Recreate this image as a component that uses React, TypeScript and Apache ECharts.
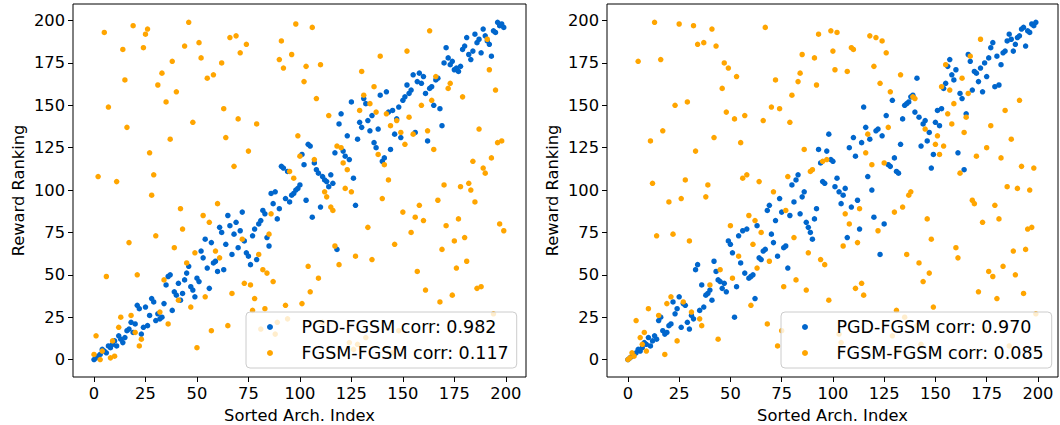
import React, { useEffect, useRef } from 'react';
import * as echarts from 'echarts';

const AXIS_TICKS = [0, 25, 50, 75, 100, 125, 150, 175, 200];
const X_TITLE = 'Sorted Arch. Index';
const Y_TITLE = 'Reward Ranking';

const LEFT_NAMES = ['PGD-FGSM corr: 0.982', 'FGSM-FGSM corr: 0.117'];
const RIGHT_NAMES = ['PGD-FGSM corr: 0.970', 'FGSM-FGSM corr: 0.085'];

// y value (reward ranking) for sorted arch index 0..199
const LEFT_PGD = [
  0, 1, 2, 3, 6, 5, 4, 8, 7, 9, 11, 8, 14, 12, 10, 13, 17, 18, 22, 16,
  21, 32, 30, 15, 19, 31, 20, 26, 36, 34, 23, 27, 24, 25, 33, 44, 49, 50, 29, 40,
  38, 45, 35, 39, 47, 51, 55, 43, 41, 37, 48, 46, 64, 60, 71, 54, 42, 69, 57, 58,
  52, 78, 75, 53, 68, 85, 79, 62, 74, 81, 66, 76, 87, 70, 63, 61, 56, 73, 77, 59,
  80, 82, 88, 86, 72, 67, 98, 92, 99, 83, 89, 114, 113, 95, 111, 93, 97, 98, 100, 101,
  103, 121, 115, 94, 127, 126, 84, 116, 112, 110, 90, 108, 106, 105, 102, 109, 104, 122, 65, 139,
  145, 123, 120, 132, 118, 152, 107, 91, 130, 140, 137, 154, 151, 141, 135, 144, 128, 125, 136, 156,
  117, 119, 158, 146, 124, 147, 133, 142, 149, 131, 153, 155, 162, 157, 159, 168, 134, 164, 169, 163,
  167, 157, 129, 160, 161, 150, 165, 166, 148, 138, 175, 184, 178, 174, 176, 171, 172, 170, 173, 183,
  185, 190, 180, 177, 182, 192, 187, 189, 181, 195, 191, 188, 186, 179, 194, 193, 199, 197, 198, 196,
];

const LEFT_FGSM = [
  3, 14, 108, 0, 5, 193, 49, 149, 1, 11, 2, 105, 19, 25, 183, 165, 137, 69, 26, 197,
  16, 50, 8, 12, 184, 192, 195, 122, 97, 109, 73, 162, 28, 169, 47, 152, 21, 130, 176, 66,
  158, 35, 89, 77, 185, 57, 199, 31, 140, 63, 7, 187, 178, 85, 37, 166, 81, 17, 168, 64,
  92, 60, 175, 148, 131, 20, 190, 39, 114, 191, 142, 181, 71, 45, 186, 123, 44, 29, 36, 139,
  62, 18, 53, 30, 51, 74, 86, 46, 15, 22, 177, 188, 172, 32, 24, 111, 180, 107, 198, 132,
  120, 33, 164, 173, 55, 40, 196, 118, 154, 48, 174, 22, 99, 96, 144, 90, 88, 67, 126, 56,
  125, 116, 101, 112, 10, 99, 6, 61, 9, 147, 170, 156, 13, 78, 151, 59, 161, 146, 121, 179,
  95, 115, 145, 106, 138, 4, 68, 141, 17, 134, 87, 127, 182, 143, 75, 133, 84, 52, 91, 150,
  82, 41, 135, 194, 153, 124, 167, 94, 34, 65, 103, 79, 160, 163, 38, 70, 54, 83, 102, 155,
  72, 58, 104, 100, 117, 93, 42, 136, 43, 113, 110, 189, 171, 119, 27, 159, 128, 80, 129, 76,
];

const RIGHT_PGD = [
  0, 1, 2, 3, 4, 6, 5, 7, 10, 9, 13, 8, 11, 14, 12, 23, 25, 17, 15, 16,
  20, 21, 34, 27, 30, 37, 19, 33, 32, 22, 18, 26, 24, 53, 56, 29, 44, 31, 38, 39,
  41, 35, 58, 52, 47, 46, 42, 45, 40, 70, 68, 63, 25, 43, 73, 57, 76, 51, 77, 48,
  49, 50, 36, 79, 60, 59, 64, 65, 88, 91, 74, 69, 82, 61, 95, 87, 66, 67, 54, 85,
  103, 93, 106, 109, 86, 96, 99, 81, 78, 75, 71, 83, 89, 124, 116, 105, 104, 123, 133, 118,
  117, 102, 107, 99, 92, 97, 101, 72, 125, 90, 131, 120, 94, 77, 128, 149, 137, 108, 130, 100,
  84, 135, 136, 62, 132, 80, 144, 115, 114, 153, 119, 111, 110, 127, 142, 150, 151, 152, 155, 156,
  146, 166, 143, 126, 139, 141, 129, 134, 113, 121, 140, 147, 138, 148, 160, 163, 173, 177, 168, 165,
  171, 122, 157, 154, 112, 145, 180, 176, 159, 170, 169, 164, 172, 158, 175, 167, 178, 184, 187, 161,
  179, 162, 174, 181, 182, 188, 192, 189, 182, 186, 190, 191, 195, 196, 185, 194, 193, 198, 197, 199,
];

const RIGHT_FGSM = [
  0, 1, 4, 2, 23, 176, 13, 9, 16, 5, 30, 129, 104, 199, 73, 26, 177, 135, 3, 33,
  93, 37, 74, 150, 11, 198, 95, 34, 106, 152, 70, 28, 197, 123, 186, 24, 20, 187, 96, 103,
  44, 195, 131, 185, 12, 53, 160, 175, 146, 172, 79, 48, 142, 167, 61, 128, 107, 144, 109, 85,
  32, 68, 82, 54, 105, 75, 141, 196, 21, 58, 149, 99, 165, 8, 148, 17, 43, 88, 108, 140,
  156, 72, 47, 164, 169, 180, 124, 41, 63, 111, 112, 178, 162, 192, 59, 117, 56, 118, 35, 194,
  182, 171, 193, 15, 10, 67, 86, 170, 80, 184, 183, 42, 69, 89, 45, 38, 122, 133, 191, 115,
  173, 190, 76, 163, 188, 116, 181, 137, 158, 14, 87, 29, 5, 168, 90, 25, 62, 97, 99, 155,
  154, 20, 57, 9, 46, 136, 83, 51, 71, 31, 127, 132, 121, 161, 126, 174, 145, 159, 139, 151,
  66, 60, 110, 166, 134, 143, 157, 179, 94, 92, 120, 40, 189, 81, 18, 125, 52, 138, 49, 91,
  36, 83, 119, 55, 147, 102, 8, 130, 64, 50, 101, 153, 114, 39, 65, 77, 100, 78, 113, 27,
];

const BLUE = '#0066cc';
const ORANGE = '#ffa500';
const FONT = 'DejaVu Sans';

function toPoints(values: number[]) {
  return values.map((y, i) => [i, y]);
}

function makeXAxis(gridIndex: number) {
  return {
    type: 'value',
    gridIndex,
    min: -10.2,
    max: 209.8,
    name: X_TITLE,
    nameLocation: 'middle',
    nameGap: 30,
    nameTextStyle: { fontFamily: FONT, fontSize: 16.3, color: '#000' },
    axisLine: { show: false, onZero: false },
    axisTick: { show: true, length: 5, customValues: AXIS_TICKS, lineStyle: { color: '#000', width: 1 } },
    axisLabel: { show: true, customValues: AXIS_TICKS, margin: 8, fontFamily: FONT, fontSize: 16.3, color: '#000' },
    splitLine: { show: false },
  };
}

function makeYAxis(gridIndex: number) {
  return {
    type: 'value',
    gridIndex,
    min: -10.3,
    max: 209.8,
    name: Y_TITLE,
    nameLocation: 'middle',
    nameGap: 47,
    nameTextStyle: { fontFamily: FONT, fontSize: 16.3, color: '#000' },
    axisLine: { show: false, onZero: false },
    axisTick: { show: true, length: 5, customValues: AXIS_TICKS, lineStyle: { color: '#000', width: 1 } },
    axisLabel: { show: true, customValues: AXIS_TICKS, margin: 8, fontFamily: FONT, fontSize: 16.3, color: '#000' },
    splitLine: { show: false },
  };
}

function makeLegend(names: string[], left: number) {
  return {
    data: names,
    orient: 'vertical',
    left,
    top: 312,
    icon: 'circle',
    itemWidth: 25,
    itemHeight: 6,
    itemGap: 6,
    padding: [5, 8, 5, 21],
    backgroundColor: 'rgba(255,255,255,0.8)',
    borderColor: '#cccccc',
    borderWidth: 1,
    borderRadius: 4,
    selectedMode: false,
    textStyle: { fontFamily: FONT, fontSize: 17.5, color: '#000', lineHeight: 20, padding: [0, 0, 0, 14] },
  };
}

function scatter(name: string, values: number[], color: string, idx: number) {
  return {
    type: 'scatter',
    name,
    xAxisIndex: idx,
    yAxisIndex: idx,
    data: toPoints(values),
    symbol: 'circle',
    symbolSize: 5.5,
    itemStyle: { color, opacity: 1 },
    silent: true,
  };
}

export default function App() {
  const ref = useRef<HTMLDivElement>(null);

  useEffect(() => {
    document.body.style.margin = '0';
    if (!ref.current) return;
    const chart = echarts.init(ref.current, null, { renderer: 'svg' });
    chart.setOption({
      animation: false,
      backgroundColor: '#ffffff',
      grid: [
        { left: 73, top: 4, width: 453, height: 373, outerBoundsMode: 'none', containLabel: false, show: true, borderColor: '#000', borderWidth: 1, backgroundColor: 'transparent' },
        { left: 607, top: 4, width: 451, height: 373, outerBoundsMode: 'none', containLabel: false, show: true, borderColor: '#000', borderWidth: 1, backgroundColor: 'transparent' },
      ],
      xAxis: [makeXAxis(0), makeXAxis(1)],
      yAxis: [makeYAxis(0), makeYAxis(1)],
      legend: [makeLegend(LEFT_NAMES, 246), makeLegend(RIGHT_NAMES, 781)],
      tooltip: { show: false },
      series: [
        scatter(LEFT_NAMES[0], LEFT_PGD, BLUE, 0),
        scatter(LEFT_NAMES[1], LEFT_FGSM, ORANGE, 0),
        scatter(RIGHT_NAMES[0], RIGHT_PGD, BLUE, 1),
        scatter(RIGHT_NAMES[1], RIGHT_FGSM, ORANGE, 1),
      ],
    });
    return () => chart.dispose();
  }, []);

  return (
    <div style={{ position: 'fixed', left: 0, top: 0, width: 1060, height: 425, background: '#fff' }}>
      <div ref={ref} style={{ width: 1060, height: 425 }} />
    </div>
  );
}
